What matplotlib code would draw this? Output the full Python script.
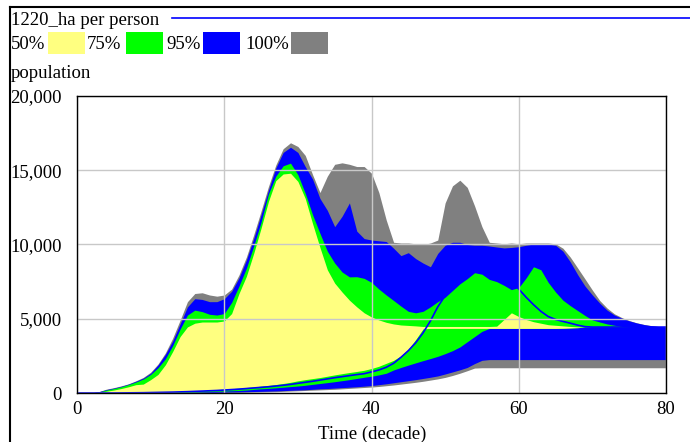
import numpy as np
import matplotlib
matplotlib.use('Agg')
import matplotlib.pyplot as plt
from matplotlib.patches import Rectangle
from matplotlib.lines import Line2D
from matplotlib.ticker import FuncFormatter

plt.rcParams['font.family'] = ['Liberation Serif', 'DejaVu Serif']

# time axis: one reading per decade, 0..80
decade = np.arange(0, 81)

# population envelopes (one value per decade)
p100 = [0, 0, 20, 100, 260, 360, 480, 620, 820, 1050,
        1400, 1950, 2700, 3700, 4900, 6150, 6700, 6750, 6600, 6520,
        6600, 7000, 7950, 9150, 10650, 12250, 13900, 15350, 16450, 16850,
        16600, 16000, 14700, 13500, 14600, 15400, 15500, 15400, 15250, 15250,
        14800, 13500, 11650, 10150, 10100, 10100, 10050, 10000, 10100, 10300,
        12800, 13950, 14330, 13850, 12600, 11200, 10150, 10100, 10050, 10100,
        10050, 10100, 10100, 10100, 10100, 10050, 9750, 9150, 8420, 7680,
        6930, 6230, 5720, 5330, 5080, 4880, 4730, 4620, 4540, 4480, 4450]

p975 = [0, 0, 15, 90, 230, 330, 450, 600, 790, 1000,
        1330, 1880, 2600, 3500, 4650, 5800, 6350, 6300, 6150, 6150,
        6350, 6850, 7750, 8950, 10400, 12000, 13650, 15150, 16200, 16550,
        16200, 15250, 14400, 13100, 12300, 11200, 11900, 12800, 10900, 10400,
        10300, 10250, 10200, 9750, 9250, 9450, 9050, 8750, 8500, 9400,
        9950, 10150, 10150, 10000, 9950, 9950, 9900, 9830, 9770, 9800,
        9850, 9950, 10030, 10030, 10030, 9950, 9550, 8830, 7970, 7200,
        6600, 6050, 5580, 5250, 5040, 4860, 4720, 4610, 4530, 4470, 4440]

p875 = [0, 0, 10, 70, 200, 300, 420, 570, 740, 940,
        1250, 1700, 2300, 3200, 4300, 5250, 5580, 5480, 5300, 5250,
        5350, 6100, 7200, 8400, 9900, 11500, 13400, 14600, 15300, 15480,
        14700, 13450, 12000, 10750, 9550, 8750, 8150, 7820, 7830, 7720,
        7450, 7000, 6600, 6230, 5850, 5500, 5400, 5500, 5800, 6150,
        6450, 6900, 7350, 7700, 8100, 8000, 7650, 7500, 7250, 6960,
        7100, 7750, 8500, 8300, 7450, 6800, 6250, 5880, 5550, 5220,
        4920, 4780, 4650, 4560, 4480, 4450, 4440, 4440, 4440, 4440, 4440]

p75 = [0, 0, 5, 40, 120, 200, 300, 420, 560, 600,
       900, 1250, 1900, 2800, 3800, 4450, 4700, 4780, 4780, 4780,
       4850, 5350, 6700, 7850, 9400, 11100, 12900, 14300, 14750, 14800,
       14250, 13100, 11400, 9800, 8300, 7400, 6800, 6250, 5800, 5400,
       5120, 4920, 4760, 4650, 4580, 4550, 4520, 4480, 4480, 4480,
       4480, 4480, 4480, 4480, 4480, 4480, 4480, 4500, 4950, 5400,
       5150, 4950, 4800, 4700, 4600, 4560, 4520, 4480, 4450, 4440,
       4440, 4440, 4440, 4440, 4440, 4440, 4440, 4440, 4440, 4440, 4440]

p25 = [0, 0, 0, 0, 0, 0, 0, 0, 0, 10,
       20, 40, 60, 80, 100, 120, 140, 160, 190, 220,
       260, 290, 330, 370, 410, 460, 510, 570, 640, 720,
       820, 900, 970, 1040, 1130, 1220, 1300, 1380, 1450, 1530,
       1650, 1800, 2000, 2200, 2500, 2950, 3600, 4320, 4350, 4350,
       4350, 4350, 4350, 4350, 4350, 4350, 4350, 4350, 4350, 4350,
       4350, 4350, 4350, 4350, 4350, 4350, 4360, 4380, 4400, 4440,
       4440, 4440, 4440, 4440, 4440, 4440, 4440, 4440, 4440, 4440, 4440]

p125 = [0, 0, 0, 0, 0, 0, 0, 0, 0, 0,
        10, 15, 20, 30, 40, 50, 60, 75, 90, 110,
        130, 150, 170, 200, 240, 280, 310, 350, 390, 430,
        470, 520, 580, 640, 700, 760, 830, 900, 980, 1060,
        1130, 1220, 1330, 1550, 1720, 1880, 2030, 2180, 2320, 2470,
        2650, 2850, 3100, 3450, 3800, 4150, 4350, 4350, 4350, 4350,
        4350, 4350, 4350, 4350, 4350, 4350, 4360, 4380, 4400, 4440,
        4440, 4440, 4440, 4440, 4440, 4440, 4440, 4440, 4440, 4440, 4440]

p025 = [0, 0, 0, 0, 0, 0, 0, 0, 0, 0,
        0, 0, 0, 5, 10, 15, 20, 25, 30, 40,
        50, 60, 70, 85, 100, 110, 125, 140, 160, 180,
        200, 220, 250, 280, 300, 330, 360, 390, 420, 460,
        500, 560, 620, 690, 760, 830, 900, 980, 1060, 1150,
        1280, 1420, 1560, 1720, 1980, 2200, 2250, 2250, 2250, 2250,
        2250, 2250, 2250, 2250, 2250, 2250, 2250, 2250, 2250, 2250,
        2250, 2250, 2250, 2250, 2250, 2250, 2250, 2250, 2250, 2250, 2250]

p0 = [0, 0, 0, 0, 0, 0, 0, 0, 0, 0,
      0, 0, 0, 0, 0, 5, 10, 15, 15, 20,
      20, 30, 40, 50, 60, 70, 80, 90, 110, 130,
      150, 170, 190, 210, 230, 250, 280, 310, 340, 370,
      400, 440, 490, 540, 600, 660, 720, 790, 870, 950,
      1050, 1180, 1330, 1500, 1680, 1700, 1700, 1700, 1700, 1700,
      1700, 1700, 1700, 1700, 1700, 1700, 1700, 1700, 1700, 1700,
      1700, 1700, 1700, 1700, 1700, 1700, 1700, 1700, 1700, 1700, 1700]

# base run "1220_ha per person"
base = [0, 0, 0, 0, 0, 0, 5, 10, 15, 20,
        30, 40, 50, 60, 75, 90, 110, 130, 150, 170,
        200, 230, 260, 300, 340, 380, 420, 470, 520, 580,
        650, 720, 790, 870, 950, 1030, 1100, 1170, 1240, 1300,
        1420, 1550, 1730, 2000, 2400, 2850, 3380, 4050, 4850, 5800,
        6550, 7300, 7950, 8450, 8750, 8850, 8750, 8500, 8100, 7600,
        7000, 6450, 5950, 5500, 5150, 4950, 4820, 4700, 4570, 4470,
        4440, 4440, 4440, 4440, 4440, 4440, 4440, 4440, 4440, 4440, 4440]

YELLOW = '#FFFF80'
GREEN = '#00FF00'
BLUE = '#0000FF'
GRAY = '#808080'

W, H = 690, 442
fig = plt.figure(figsize=(W / 100, H / 100), dpi=100)
ax = fig.add_axes([77 / W, 1 - 393 / H, (666 - 77) / W, (393 - 96) / H])

bands = [(p0, p100, GRAY), (p025, p975, BLUE), (p125, p875, GREEN), (p25, p75, YELLOW)]
for lo, hi, col in bands:
    ax.fill_between(decade, lo, hi, color=col, linewidth=0)
ax.plot(decade, base, color=BLUE, lw=1.2)

ax.set_xlim(0, 80)
ax.set_ylim(0, 20000)
ax.set_xticks([0, 20, 40, 60, 80])
ax.set_yticks([0, 5000, 10000, 15000, 20000])
ax.yaxis.set_major_formatter(FuncFormatter(lambda v, p: f'{int(v):,}'))
ax.grid(True, color='#C8C8C8', lw=1)
ax.set_axisbelow(False)
ax.tick_params(axis='both', length=0, labelsize=13.5)
ax.tick_params(axis='y', pad=11)
ax.tick_params(axis='x', pad=6)
for s in ax.spines.values():
    s.set_color('black')
    s.set_linewidth(1)
    s.set_zorder(10)

fs = 13.5
fig.text(372 / W, 1 - 439 / H, 'Time (decade)', ha='center', va='baseline', fontsize=fs)
fig.text(11 / W, 1 - 25 / H, '1220_ha per person', va='baseline', fontsize=fs)
fig.text(11 / W, 1 - 78 / H, 'population', va='baseline', fontsize=fs)
fig.add_artist(Line2D([172 / W, 1], [1 - 18 / H] * 2, color=BLUE, lw=1.2))

legend_items = [('50%', 11, 48, YELLOW), ('75%', 87, 126, GREEN),
                ('95%', 166, 203, BLUE), ('100%', 245, 291, GRAY)]
for label, tx, bx, col in legend_items:
    fig.text(tx / W, 1 - 49 / H, label, va='baseline', fontsize=fs)
    fig.add_artist(Rectangle((bx / W, 1 - 54 / H), 37 / W, 22 / H,
                             facecolor=col, edgecolor='none', transform=fig.transFigure))

# outer frame of the graph window
fig.add_artist(Line2D([9.5 / W, 9.5 / W], [0, 1 - 7 / H], color='black', lw=1.5))
fig.add_artist(Line2D([9.5 / W, 1], [1 - 7 / H] * 2, color='black', lw=1.5))

fig.savefig('out.png', dpi=100)
